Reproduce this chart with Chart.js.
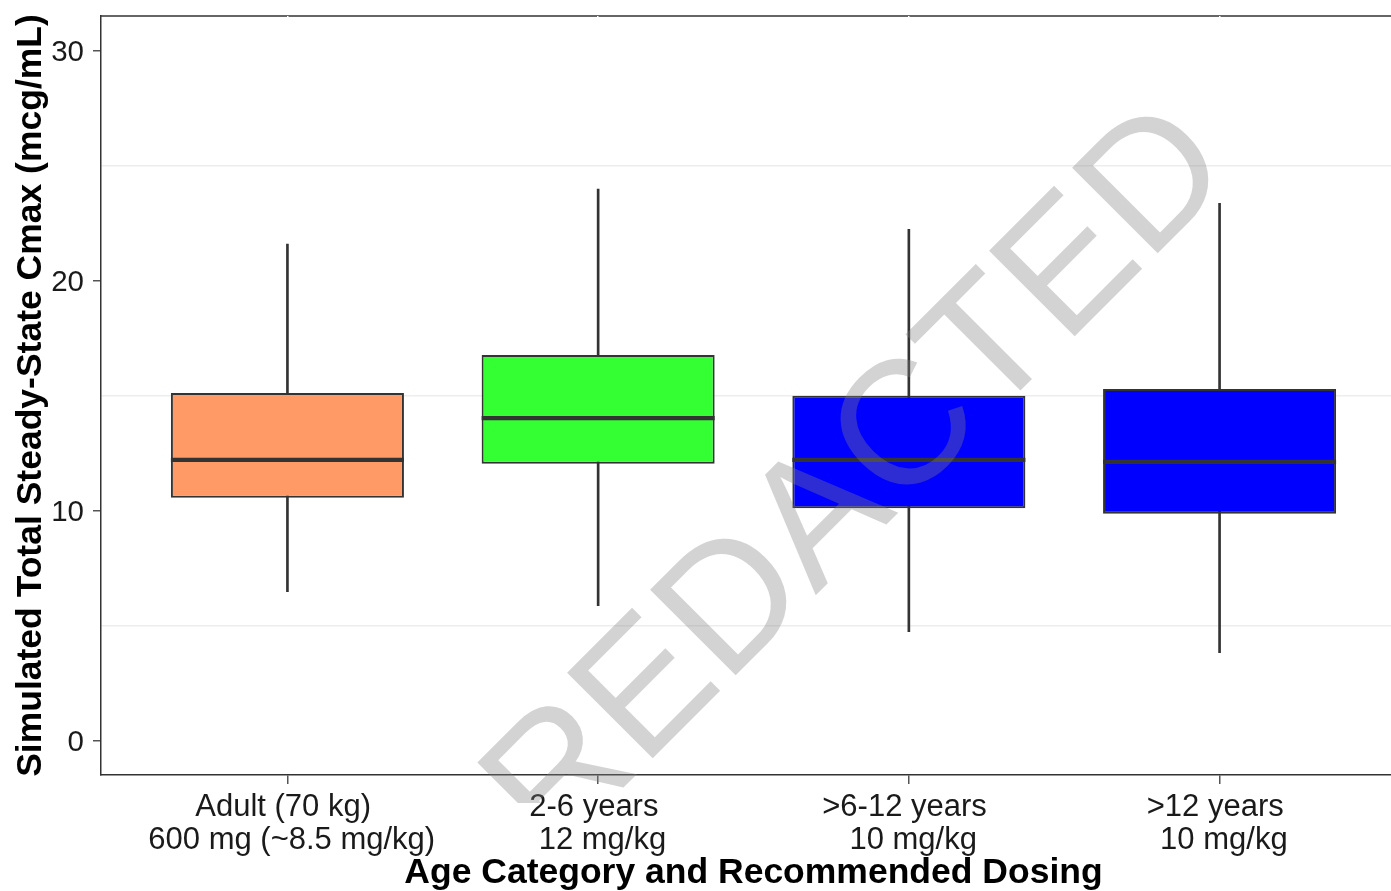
<!DOCTYPE html>
<html>
<head>
<meta charset="utf-8">
<script src="https://cdn.jsdelivr.net/npm/chart.js@4"></script>
<style>
  html, body { margin: 0; padding: 0; background: #ffffff; overflow: hidden; }
  #wrap { width: 1391px; height: 891px; overflow: hidden; position: relative; }
  canvas { display: block; }
</style>
</head>
<body>
<div id="wrap"><canvas id="chart" width="1406" height="891" style="width:1406px;height:891px"></canvas></div>
<script>
// Age groups (two-line axis labels, joined with " \n ") and simulated Cmax box statistics (mcg/mL)
const categories = [
  ["Adult (70 kg) ", " 600 mg (~8.5 mg/kg)"],
  ["2-6 years ", " 12 mg/kg"],
  [">6-12 years ", " 10 mg/kg"],
  [">12 years ", " 10 mg/kg"]
];
const whiskerLow  = [6.47, 5.86, 4.73, 3.82];
const q1          = [10.55, 12.03, 10.10, 9.86];
const median      = [12.20, 14.02, 12.20, 12.11];
const q3          = [15.11, 16.76, 14.99, 15.28];
const whiskerHigh = [21.58, 23.97, 22.23, 23.36];
const boxColors   = ["#FF9966", "#33FF33", "#0000FF", "#0000FF"];

// Axis ticks: labelled majors plus faint minor grid lines
const yMajorTicks = [0, 10, 20, 30];
const yMinorTicks = [5, 15, 25];

const xTitle = "Age Category and Recommended Dosing";
const yTitle = "Simulated Total Steady-State Cmax (mcg/mL)";
const watermark = "REDACTED";

const FONT = "'Liberation Sans', Arial, Helvetica, sans-serif";
const INK = "#333333";

// discrete positions 1..n on a continuous axis, padded 0.6 on each side
const xPositions = categories.map((_, i) => i + 1);
const yGridValues = [...yMajorTicks, ...yMinorTicks].sort((a, b) => a - b);

const boxData = xPositions.map((x, i) => ({ x, y: [q1[i], q3[i]] }));
const whiskerData = xPositions.map((x, i) => ({ x, y: [whiskerLow[i], whiskerHigh[i]] }));

// white page and the top edge of the panel (drawn first so grid lines cut through it)
const panelFrame = {
  id: "panelFrame",
  beforeDraw(chart) {
    const { ctx, chartArea: a } = chart;
    ctx.save();
    ctx.fillStyle = "#ffffff";
    ctx.fillRect(0, 0, chart.width, chart.height);
    ctx.strokeStyle = INK;
    ctx.lineWidth = 1.5;
    ctx.beginPath();
    ctx.moveTo(a.left, a.top);
    ctx.lineTo(a.right, a.top);
    ctx.stroke();
    ctx.restore();
  }
};

// median bar across each box
const medianLines = {
  id: "medianLines",
  afterDatasetsDraw(chart) {
    const meta = chart.getDatasetMeta(0);
    const yScale = chart.scales.y;
    const ctx = chart.ctx;
    ctx.save();
    ctx.strokeStyle = INK;
    ctx.lineWidth = 4.3;
    ctx.lineCap = "butt";
    meta.data.forEach((bar, i) => {
      const py = yScale.getPixelForValue(median[i]);
      ctx.beginPath();
      ctx.moveTo(bar.x - bar.width / 2, py);
      ctx.lineTo(bar.x + bar.width / 2, py);
      ctx.stroke();
    });
    ctx.restore();
  }
};

// translucent diagonal stamp over the whole figure
const stamp = {
  id: "stamp",
  afterDraw(chart) {
    const ctx = chart.ctx;
    ctx.save();
    ctx.beginPath();
    ctx.rect(0, 0, chart.width, 803);
    ctx.clip();
    ctx.translate(895, 516);
    ctx.rotate(-Math.PI / 4);
    ctx.font = "176px " + FONT;
    ctx.fillStyle = "rgba(128,128,128,0.35)";
    ctx.textAlign = "center";
    ctx.textBaseline = "alphabetic";
    ctx.fillText(watermark, 0, 0);
    ctx.restore();
  }
};

new Chart(document.getElementById("chart"), {
  type: "bar",
  data: {
    datasets: [
      {
        label: "box",
        data: boxData,
        backgroundColor: boxColors,
        borderColor: INK,
        borderWidth: 2,
        borderSkipped: false,
        grouped: false,
        categoryPercentage: 1,
        barPercentage: 0.75
      },
      {
        label: "whisker",
        data: whiskerData,
        backgroundColor: INK,
        borderWidth: 0,
        grouped: false,
        categoryPercentage: 1,
        barPercentage: 1,
        maxBarThickness: 2
      }
    ]
  },
  options: {
    responsive: false,
    devicePixelRatio: 1,
    animation: false,
    layout: { padding: { top: 16, left: 0, right: 0, bottom: 0 } },
    plugins: {
      legend: { display: false },
      tooltip: { enabled: false }
    },
    scales: {
      x: {
        type: "linear",
        min: 0.4,
        max: 4.6,
        offset: false,
        afterBuildTicks: (s) => { s.ticks = xPositions.map((v) => ({ value: v })); },
        afterFit: (s) => { s.height = 116; s.paddingLeft = 0; s.paddingRight = 0; },
        grid: {
          offset: false,
          color: "#ffffff",
          lineWidth: 1.5,
          tickLength: 9,
          tickColor: "#555555",
          tickWidth: 1.5
        },
        border: { display: true, color: INK, width: 1.5 },
        ticks: {
          autoSkip: false,
          maxRotation: 0,
          minRotation: 0,
          padding: 7,
          color: "#1a1a1a",
          font: { family: FONT, size: 31, lineHeight: 1.065 },
          callback: (v, i) => categories[i]
        },
        title: {
          display: true,
          text: xTitle,
          color: "#000000",
          font: { family: FONT, size: 35.5, weight: "bold", lineHeight: 1 },
          padding: { top: 0, bottom: 0.5 }
        }
      },
      y: {
        type: "linear",
        min: -1.5,
        max: 31.5,
        afterBuildTicks: (s) => { s.ticks = yGridValues.map((v) => ({ value: v })); },
        afterFit: (s) => { s.width = 101; s.paddingTop = 0; s.paddingBottom = 0; },
        grid: {
          color: (c) => (yMajorTicks.includes(c.tick && c.tick.value) ? "#ffffff" : "#ededed"),
          lineWidth: 1.5,
          tickLength: 8,
          tickColor: (c) => (yMajorTicks.includes(c.tick && c.tick.value) ? "#555555" : "rgba(0,0,0,0)"),
          tickWidth: 1.5
        },
        border: { display: true, color: INK, width: 1.5 },
        ticks: {
          padding: 9,
          labelOffset: 2.5,
          color: "#1a1a1a",
          font: { family: FONT, size: 29.5 },
          callback: (v) => (yMajorTicks.includes(v) ? String(v) : "")
        },
        title: {
          display: true,
          text: yTitle,
          color: "#000000",
          font: { family: FONT, size: 35.5, weight: "bold", lineHeight: 1 },
          padding: { top: 13, bottom: 0 }
        }
      }
    }
  },
  plugins: [panelFrame, medianLines, stamp]
});
</script>
</body>
</html>
